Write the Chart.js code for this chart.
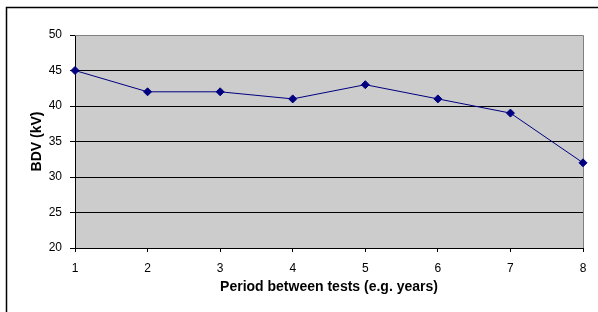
<!DOCTYPE html>
<html>
<head>
<meta charset="utf-8">
<script src="https://cdn.jsdelivr.net/npm/chart.js@4.4.0/dist/chart.umd.min.js"></script>
<style>
html,body{margin:0;padding:0;background:#fff;}
canvas{display:block;}
</style>
</head>
<body>
<canvas id="c" width="598" height="312"></canvas>
<script>
const periods = [1, 2, 3, 4, 5, 6, 7, 8];
const bdvValues = [45, 42, 42, 41, 43, 41, 39, 32];
const yTicks = [20, 25, 30, 35, 40, 45, 50];
const xTitle = 'Period between tests (e.g. years)';
const yTitle = 'BDV (kV)';

const points = periods.map((p, i) => ({x: p, y: bdvValues[i]}));

const framePlugin = {
  id: 'frame',
  beforeDraw(chart) {
    const {ctx, chartArea: a} = chart;
    ctx.save();
    ctx.fillStyle = '#ffffff';
    ctx.fillRect(0, 0, chart.width, chart.height);
    ctx.strokeStyle = '#000000';
    ctx.lineWidth = 1.5;
    ctx.beginPath();
    ctx.moveTo(6.5, chart.height + 5);
    ctx.lineTo(6.5, 7.5);
    ctx.lineTo(chart.width + 5, 7.5);
    ctx.stroke();
    ctx.fillStyle = '#cccccc';
    ctx.fillRect(a.left, a.top, a.right - a.left, a.bottom - a.top);
    ctx.restore();
  },
  beforeDatasetsDraw(chart) {
    const {ctx, chartArea: a} = chart;
    ctx.save();
    ctx.strokeStyle = '#808080';
    ctx.lineWidth = 1;
    ctx.beginPath();
    ctx.moveTo(a.left, a.top + 0.5);
    ctx.lineTo(a.right + 0.5, a.top + 0.5);
    ctx.lineTo(a.right + 0.5, a.bottom);
    ctx.stroke();
    ctx.restore();
  }
};

const FONT = 'Liberation Sans, Arial, sans-serif';

new Chart(document.getElementById('c'), {
  type: 'line',
  data: {
    datasets: [{
      data: points,
      borderColor: '#000080',
      backgroundColor: '#000080',
      borderWidth: 1,
      pointStyle: 'rectRot',
      pointRadius: 4,
      pointHoverRadius: 4,
      pointBackgroundColor: '#000080',
      pointBorderColor: '#000080',
      tension: 0,
      fill: false,
      clip: false
    }]
  },
  options: {
    responsive: false,
    devicePixelRatio: 1,
    animation: false,
    events: [],
    layout: {padding: {left: 0, right: 15, top: 35, bottom: 0}},
    plugins: {legend: {display: false}, tooltip: {enabled: false}},
    scales: {
      x: {
        type: 'linear',
        min: 1,
        max: 8,
        afterFit(s) { s.height = 64; },
        afterBuildTicks(s) { s.ticks = periods.map(v => ({value: v})); },
        ticks: {
          color: '#000',
          font: {family: FONT, size: 12},
          padding: 9,
          maxRotation: 0,
          autoSkip: false
        },
        grid: {
          drawOnChartArea: false,
          drawTicks: true,
          tickLength: 4,
          tickColor: '#000'
        },
        border: {display: true, color: '#000', width: 1},
        title: {
          display: true,
          text: xTitle,
          color: '#000',
          font: {family: FONT, size: 14, weight: 'bold'},
          padding: {top: 0, bottom: 16}
        }
      },
      y: {
        min: 20,
        max: 50,
        afterFit(s) { s.width = 75; },
        afterBuildTicks(s) { s.ticks = yTicks.map(v => ({value: v})); },
        ticks: {
          color: '#000',
          font: {family: FONT, size: 12},
          padding: 8
        },
        grid: {
          color: ctx => (ctx.tick && ctx.tick.value === 50) ? 'rgba(0,0,0,0)' : '#000',
          drawTicks: true,
          tickLength: 5,
          tickColor: '#000',
          lineWidth: 1
        },
        border: {display: true, color: '#000', width: 1},
        title: {
          display: true,
          text: yTitle,
          color: '#000',
          font: {family: FONT, size: 14, weight: 'bold'},
          padding: {top: 29, bottom: 0}
        }
      }
    }
  },
  plugins: [framePlugin]
});
</script>
</body>
</html>
